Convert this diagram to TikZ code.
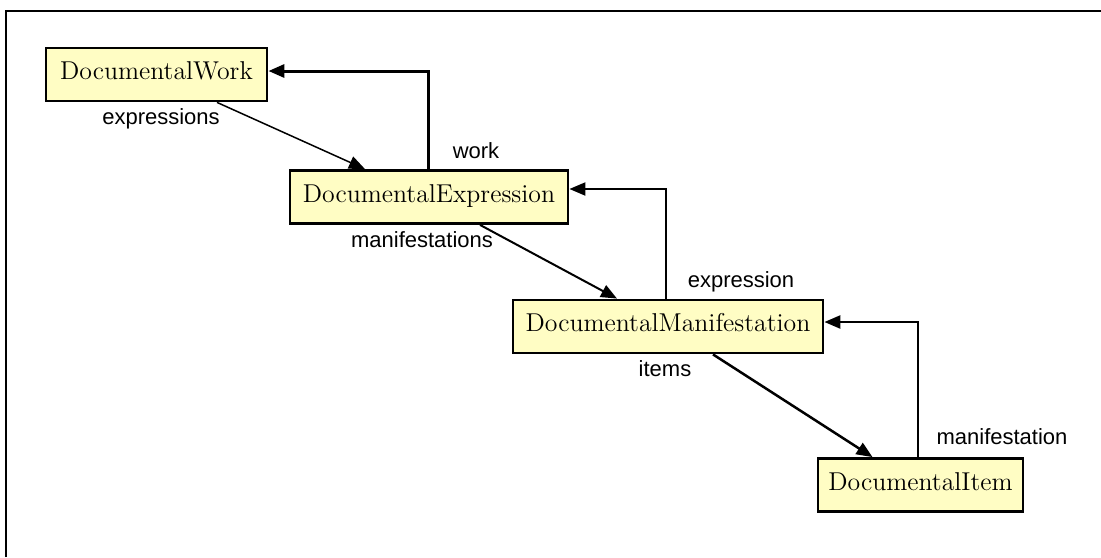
\documentclass[tikz,border=0pt]{standalone}
\usepackage{fontspec}
\newfontfamily\labelfont{Liberation Sans}
\usetikzlibrary{arrows.meta}
\definecolor{boxyellow}{RGB}{255,253,196}
\begin{document}
\begin{tikzpicture}[x=0.5pt, y=-0.5pt,
                    every node/.style={inner sep=0pt},
                    ]
    \tikzstyle{entity}=[rectangle,draw=black,fill=boxyellow,line width=1.4pt,minimum height=26.5pt,
                        text height=1.5ex,text depth=0.25ex,font=\fontsize{12.9}{15}\selectfont]
    \tikzstyle{role}=[font=\labelfont\fontsize{11}{13}\selectfont]
    \tikzstyle{link}=[draw=black,line width=1pt,-{Triangle[length=8pt,width=6.5pt]}]

    \useasboundingbox (0,0) rectangle (1101,557);
    \draw[line width=1pt] (6,557) -- (6,11) -- (1101,11);

    \node[entity, minimum width=110.5pt] (work)  at (156.5,74.5) {DocumentalWork};
    \node[entity, minimum width=139pt]   (expr)  at (429,197)    {DocumentalExpression};
    \node[entity, minimum width=155pt]   (manif) at (668,326.5)  {DocumentalManifestation};
    \node[entity, minimum width=102.5pt] (item)  at (920.5,485)  {DocumentalItem};

    \node[role] (lexpressions)    at (161,119)  {expressions};
    \node[role] (lwork)           at (476,151)  {work};
    \node[role] (lmanifestations) at (422,240)  {manifestations};
    \node[role] (lexpression)     at (741,282)  {expression};
    \node[role] (litems)          at (665,369)  {items};
    \node[role] (lmanifestation)  at (1002,437) {manifestation};

    % forward links
    \draw[link, line width=0.75pt] ([xshift=30.25pt]work.south) -- ([xshift=-32pt]expr.north);
    \draw[link] ([xshift=25.5pt]expr.south) -- ([xshift=-25.5pt]manif.north);
    \draw[link, line width=1.25pt] ([xshift=22.5pt]manif.south) -- ([xshift=-24pt]item.north);
    % back links
    \draw[link, line width=1.5pt] ([xshift=-0.5pt]expr.north) |- ([yshift=1.75pt]work.east);
    \draw[link] ([xshift=-1pt]manif.north) |- ([yshift=4pt]expr.east);
    \draw[link, line width=1.25pt] ([xshift=-1.25pt]item.north) |- ([yshift=2.25pt]manif.east);
\end{tikzpicture}
\end{document}
